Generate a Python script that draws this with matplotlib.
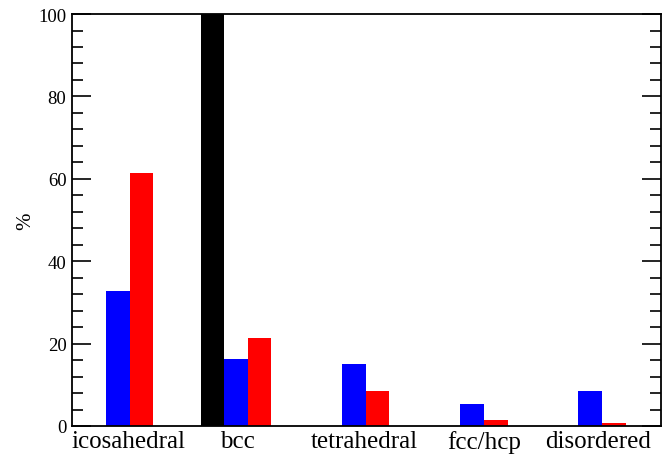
import matplotlib
matplotlib.use("Agg")
import matplotlib.pyplot as plt
import numpy as np
from matplotlib.ticker import MultipleLocator

plt.rcParams['font.family'] = ['Liberation Serif', 'DejaVu Serif']

# data
categories = ['icosahedral', 'bcc', 'tetrahedral', 'fcc/hcp', 'disordered']
black_vals = [0, 100, 0, 0, 0]
blue_vals = [32.8, 16.3, 15.0, 5.3, 8.4]
red_vals = [61.4, 21.4, 8.6, 1.4, 0.8]
label_pos = [1.09, 2.01, 3.09, 4.10, 5.07]

x = np.arange(1, len(categories) + 1)
w = 0.2

fig = plt.figure(figsize=(6.69, 4.56), dpi=100)
ax = fig.add_axes([0.1076, 0.0636, 0.8804, 0.9034])

ax.bar(x - w, black_vals, w, color='black', edgecolor='none')
ax.bar(x, blue_vals, w, color='blue', edgecolor='none')
ax.bar(x + w, red_vals, w, color='red', edgecolor='none')

ax.set_xlim(0.61, 5.60)
ax.set_ylim(0, 100)
ax.set_xticks(label_pos)
ax.set_xticklabels(categories, fontsize=18)
ax.tick_params(axis='x', length=0, pad=3)

ax.yaxis.set_major_locator(MultipleLocator(20))
ax.yaxis.set_minor_locator(MultipleLocator(4))
ax.tick_params(axis='y', which='major', direction='in', length=14, width=1.2,
               left=True, right=True, labelsize=13.5, pad=4)
ax.tick_params(axis='y', which='minor', direction='in', length=8, width=1.2,
               left=True, right=True)
ax.set_ylabel('%', fontsize=15, labelpad=2)

for s in ax.spines.values():
    s.set_linewidth(1.3)

fig.savefig('out.png', dpi=100)
